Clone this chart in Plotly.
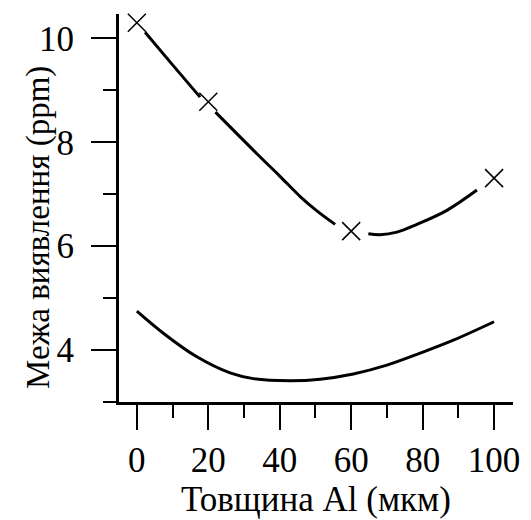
import plotly.graph_objects as go

# Marker points (upper series)
mark_x = [0, 20, 60, 100]
mark_y = [10.30, 8.78, 6.29, 7.31]

# Upper fitted curve (None = gaps around markers)
up_x = [2.3, 10, 17.7, None, 22, 33.6, 40, 45.8, 50.4, 55.5, None, 64.8, 68.1, 72.8, 78.4, 86.8, 95.2]
up_y = [10.12, 9.49, 8.87, None, 8.58, 7.78, 7.35, 6.95, 6.68, 6.42, None, 6.24, 6.22, 6.27, 6.42, 6.69, 7.08]

# Lower curve
low_x = [0, 7.5, 16.8, 26.1, 32.6, 42.9, 51.3, 60.6, 70, 79.3, 88.6, 100]
low_y = [4.75, 4.32, 3.87, 3.56, 3.45, 3.41, 3.44, 3.54, 3.71, 3.94, 4.19, 4.545]

x_ticks = [0, 20, 40, 60, 80, 100]
y_ticks = [4, 6, 8, 10]

FONT = "Liberation Serif"
FS = 35

fig = go.Figure()
fig.add_trace(go.Scatter(x=up_x, y=up_y, mode="lines", line=dict(color="black", width=3, shape="spline"),
                         connectgaps=False, showlegend=False, hoverinfo="skip"))
fig.add_trace(go.Scatter(x=low_x, y=low_y, mode="lines", line=dict(color="black", width=3, shape="spline"),
                         showlegend=False, hoverinfo="skip"))
fig.add_trace(go.Scatter(x=mark_x, y=mark_y, mode="markers",
                         marker=dict(symbol="x-thin", size=18, line=dict(color="black", width=1.5)),
                         showlegend=False, cliponaxis=False))

fig.update_layout(
    width=523, height=512,
    margin=dict(l=111, r=18, t=6, b=118, autoexpand=False),
    paper_bgcolor="white", plot_bgcolor="white",
    font=dict(family=FONT, size=FS, color="black"),
)
fig.update_xaxes(
    range=[-5, 105.3], showgrid=False, zeroline=False, automargin=False,
    showline=True, linewidth=3, linecolor="black",
    ticks="outside", ticklen=25, tickwidth=2, tickcolor="black",
    tickvals=x_ticks, ticktext=[str(v) for v in x_ticks],
    minor=dict(tickvals=[10, 30, 50, 70, 90], ticks="outside", ticklen=13, tickwidth=2, tickcolor="black"),
    title=dict(text="Товщина Al (мкм)", font=dict(family=FONT, size=FS), standoff=8),
    tickfont=dict(family=FONT, size=FS),
)
fig.update_yaxes(
    range=[3, 10.47], showgrid=False, zeroline=False, automargin=False,
    showline=True, linewidth=3, linecolor="black",
    ticks="outside", ticklen=25, tickwidth=2, tickcolor="black",
    tickvals=y_ticks, ticktext=[str(v) for v in y_ticks],
    minor=dict(tickvals=[3, 5, 7, 9], ticks="outside", ticklen=13, tickwidth=2, tickcolor="black"),
    tickfont=dict(family=FONT, size=FS),
    ticklabelstandoff=10,
)
fig.add_annotation(
    text="Межа виявлення (ppm)", xref="paper", yref="paper", x=0, y=0.5,
    xanchor="center", yanchor="middle", xshift=-81, yshift=-20, textangle=-90,
    showarrow=False, font=dict(family=FONT, size=33, color="black"),
)

fig.write_html("out.html")
